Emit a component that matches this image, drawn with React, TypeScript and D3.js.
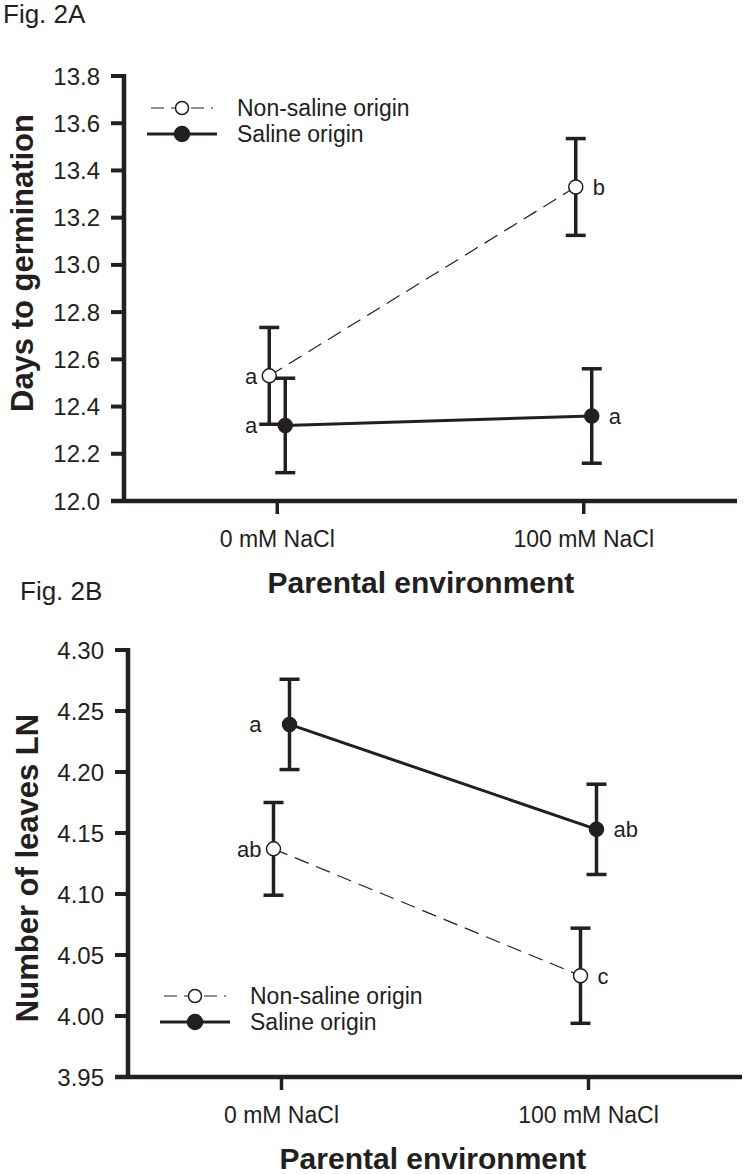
import React from "react";
import * as d3 from "d3";

const categories = ["0 mM NaCl", "100 mM NaCl"];
const seriesNames = ["Non-saline origin", "Saline origin"];

// Fig. 2A – Days to germination
const daysTicks = [12.0, 12.2, 12.4, 12.6, 12.8, 13.0, 13.2, 13.4, 13.6, 13.8];
const daysNonSaline = [12.53, 13.33];
const daysNonSalineErr = [0.205, 0.205];
const daysNonSalineLetters = ["a", "b"];
const daysSaline = [12.32, 12.36];
const daysSalineErr = [0.2, 0.2];
const daysSalineLetters = ["a", "a"];

// Fig. 2B – Number of leaves LN
const leavesTicks = [3.95, 4.0, 4.05, 4.1, 4.15, 4.2, 4.25, 4.3];
const leavesNonSaline = [4.137, 4.033];
const leavesNonSalineErr = [0.038, 0.039];
const leavesNonSalineLetters = ["ab", "c"];
const leavesSaline = [4.239, 4.153];
const leavesSalineErr = [0.037, 0.037];
const leavesSalineLetters = ["a", "ab"];

const INK = "#231f20";
const FONT = "'Liberation Sans', Arial, Helvetica, sans-serif";

type Series = {
  name: string;
  values: number[];
  errs: number[];
  letters: string[];
  open: boolean;
};

type PanelProps = {
  figLabel: string;
  figX: number;
  figY: number;
  x0: number;
  x1: number;
  yTop: number;
  yBottom: number;
  domain: [number, number];
  ticks: number[];
  tickFormat: (v: number) => string;
  yTitle: string;
  yTitleX: number;
  yTitleY: number;
  xTitleX: number;
  legendX: number;
  legendY: number;
  series: Series[];
};

function Panel(p: PanelProps) {
  const x = d3.scalePoint<string>().domain(categories).range([p.x0, p.x1]).padding(0.5);
  const y = d3.scaleLinear().domain(p.domain).range([p.yBottom, p.yTop]);
  const offsets = [-8, 8];

  return (
    <g>
      <text x={p.figX} y={p.figY} fontSize={26} fill={INK} fontFamily={FONT}>
        {p.figLabel}
      </text>
      {/* axes */}
      <line x1={p.x0} x2={p.x0} y1={p.yTop - 2} y2={p.yBottom} stroke={INK} strokeWidth={4.5} />
      <line x1={p.x0 - 13} x2={p.x1} y1={p.yBottom} y2={p.yBottom} stroke={INK} strokeWidth={4.5} />
      {p.ticks.map((t) => (
        <g key={t}>
          <line x1={p.x0 - 13} x2={p.x0} y1={y(t)} y2={y(t)} stroke={INK} strokeWidth={4} />
          <text
            x={p.x0 - 24}
            y={y(t) + 8.5}
            textAnchor="end"
            fontSize={24}
            fill={INK}
            fontFamily={FONT}
          >
            {p.tickFormat(t)}
          </text>
        </g>
      ))}
      {categories.map((c) => (
        <g key={c}>
          <line
            x1={x(c)}
            x2={x(c)}
            y1={p.yBottom}
            y2={p.yBottom + 13}
            stroke={INK}
            strokeWidth={3.5}
          />
          <text
            x={x(c)}
            y={p.yBottom + 46}
            textAnchor="middle"
            fontSize={23}
            fill={INK}
            fontFamily={FONT}
          >
            {c}
          </text>
        </g>
      ))}
      <text
        x={p.xTitleX}
        y={p.yBottom + 92}
        textAnchor="middle"
        fontSize={30}
        fontWeight="bold"
        fill={INK}
        fontFamily={FONT}
      >
        Parental environment
      </text>
      <text
        transform={`translate(${p.yTitleX},${p.yTitleY}) rotate(-90)`}
        textAnchor="middle"
        fontSize={31}
        fontWeight="bold"
        fill={INK}
        fontFamily={FONT}
      >
        {p.yTitle}
      </text>

      {/* error bars */}
      {p.series.map((s, si) =>
        s.values.map((v, i) => {
          const cx = (x(categories[i]) as number) + offsets[si];
          const lo = y(v - s.errs[i]);
          const hi = y(v + s.errs[i]);
          return (
            <g key={`e${si}${i}`} stroke={INK} strokeWidth={3.5}>
              <line x1={cx} x2={cx} y1={lo} y2={hi} />
              <line x1={cx - 10} x2={cx + 10} y1={lo} y2={lo} />
              <line x1={cx - 10} x2={cx + 10} y1={hi} y2={hi} />
            </g>
          );
        })
      )}
      {/* connecting lines */}
      {p.series.map((s, si) => {
        const l = d3
          .line<number>()
          .x((_, i) => (x(categories[i]) as number) + offsets[si])
          .y((v) => y(v));
        return (
          <path
            key={`l${si}`}
            d={l(s.values) || ""}
            fill="none"
            stroke={INK}
            strokeWidth={s.open ? 1.2 : 3}
            strokeDasharray={s.open ? "15,8" : undefined}
          />
        );
      })}
      {/* markers */}
      {p.series.map((s, si) =>
        s.values.map((v, i) => (
          <circle
            key={`m${si}${i}`}
            cx={(x(categories[i]) as number) + offsets[si]}
            cy={y(v)}
            r={7}
            fill={s.open ? "#fff" : INK}
            stroke={INK}
            strokeWidth={1.5}
          />
        ))
      )}
      {/* letters */}
      {p.series.map((s, si) =>
        s.values.map((v, i) => {
          const tx = x(categories[i]) as number;
          const left = i === 0;
          return (
            <text
              key={`t${si}${i}`}
              x={left ? tx - 20 : tx + offsets[si] + 17}
              y={y(v) + 8}
              textAnchor={left ? "end" : "start"}
              fontSize={22}
              fill={INK}
              fontFamily={FONT}
            >
              {s.letters[i]}
            </text>
          );
        })
      )}
      {/* legend */}
      {p.series.map((s, si) => {
        const ly = p.legendY + si * 26;
        const half = s.open ? 31 : 35;
        return (
          <g key={`g${si}`}>
            <line
              x1={p.legendX - half}
              x2={p.legendX + half}
              y1={ly}
              y2={ly}
              stroke={INK}
              strokeWidth={s.open ? 1.2 : 3}
              strokeDasharray={s.open ? "13,7" : undefined}
            />
            <circle
              cx={p.legendX}
              cy={ly}
              r={s.open ? 6.5 : 7.5}
              fill={s.open ? "#fff" : INK}
              stroke={INK}
              strokeWidth={1.5}
            />
            <text x={p.legendX + 55} y={ly + 8} fontSize={23} fill={INK} fontFamily={FONT}>
              {s.name}
            </text>
          </g>
        );
      })}
    </g>
  );
}

export default function App() {
  const seriesA: Series[] = [
    { name: seriesNames[0], values: daysNonSaline, errs: daysNonSalineErr, letters: daysNonSalineLetters, open: true },
    { name: seriesNames[1], values: daysSaline, errs: daysSalineErr, letters: daysSalineLetters, open: false },
  ];
  const seriesB: Series[] = [
    { name: seriesNames[0], values: leavesNonSaline, errs: leavesNonSalineErr, letters: leavesNonSalineLetters, open: true },
    { name: seriesNames[1], values: leavesSaline, errs: leavesSalineErr, letters: leavesSalineLetters, open: false },
  ];
  return (
    <svg
      width={745}
      height={1174}
      style={{ position: "absolute", left: 0, top: 0, background: "#fff" }}
    >
      <rect width={745} height={1174} fill="#fff" />
      <Panel
        figLabel="Fig. 2A"
        figX={3}
        figY={23}
        x0={124}
        x1={737}
        yTop={76}
        yBottom={501}
        domain={[12.0, 13.8]}
        ticks={daysTicks}
        tickFormat={d3.format(".1f")}
        yTitle="Days to germination"
        yTitleX={33}
        yTitleY={263}
        xTitleX={421}
        legendX={182}
        legendY={108}
        series={seriesA}
      />
      <Panel
        figLabel="Fig. 2B"
        figX={20}
        figY={600}
        x0={128}
        x1={742}
        yTop={650}
        yBottom={1077}
        domain={[3.95, 4.3]}
        ticks={leavesTicks}
        tickFormat={d3.format(".2f")}
        yTitle="Number of leaves LN"
        yTitleX={38}
        yTitleY={868}
        xTitleX={433}
        legendX={195}
        legendY={996}
        series={seriesB}
      />
    </svg>
  );
}
